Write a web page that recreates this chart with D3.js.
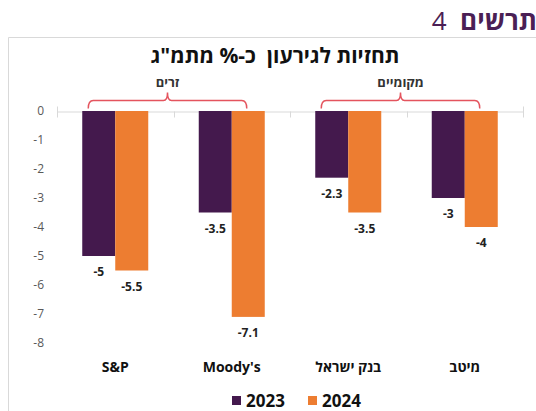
<!DOCTYPE html>
<html>
<head>
<meta charset="utf-8">
<script src="https://cdn.jsdelivr.net/npm/d3@7"></script>
<style>
  body { margin: 0; background: #fff; }
  svg { display: block; font-family: "Open Sans", "DejaVu Sans", sans-serif; }
</style>
</head>
<body>
<div id="chart"></div>
<script>
// data
let categories = ['S&P', "Moody's", 'בנק ישראל', 'מיטב'];
let seriesNames = ['2023', '2024'];
let values2023 = [-5, -3.5, -2.3, -3];
let values2024 = [-5.5, -7.1, -3.5, -4];
let yTicks = [0, -1, -2, -3, -4, -5, -6, -7, -8];
let groups = [
    { name: 'זרים', from: 0, to: 1 },
    { name: 'מקומיים', from: 2, to: 3 }
];

let colors = ['#44194d', '#ed7d31'];

function draw_chart() {
    let svgWidth = 536, svgHeight = 411;
    let svg = d3.select('#chart').append('svg')
        .attr('width', svgWidth)
        .attr('height', svgHeight);

    // frame
    svg.append('path')
        .attr('d', `M8.5,${svgHeight} L8.5,37.5 L${svgWidth},37.5`)
        .attr('fill', 'none')
        .attr('stroke', '#d9d9d9');

    // header (visual order: 4 then the word)
    let header = svg.append('text')
        .attr('x', 537)
        .attr('y', 30)
        .attr('text-anchor', 'end')
        .attr('fill', '#4b1f55')
        .attr('font-size', '26px');
    header.append('tspan').text('4\u00a0\u00a0');
    header.append('tspan').attr('font-weight', 'bold').text('תרשים');

    // title
    svg.append('text')
        .attr('x', 275)
        .attr('y', 63)
        .attr('text-anchor', 'middle')
        .attr('font-weight', 'bold')
        .attr('font-size', '21px')
        .attr('fill', '#111')
        .text('תחזיות לגירעון\u00a0\u00a0כ-% מתמ"ג');

    let x = d3.scaleBand()
        .domain(categories)
        .range([57, 523])
        .paddingInner(0)
        .paddingOuter(0);
    let x1 = d3.scaleBand()
        .domain(seriesNames)
        .range([0, 66]);
    let y = d3.scaleLinear()
        .domain([0, -8])
        .range([111, 343]);

    // y axis labels
    svg.append('g')
        .selectAll('text')
        .data(yTicks)
        .enter()
        .append('text')
        .attr('x', 44)
        .attr('y', d => y(d))
        .attr('dy', '0.35em')
        .attr('text-anchor', 'end')
        .attr('font-size', '12px')
        .attr('fill', '#595959')
        .text(d => d);

    // zero line with category ticks
    let axis_x = d3.axisTop(x).tickSize(5).tickFormat('');
    let gx = svg.append('g')
        .attr('transform', `translate(0, ${y(0) + 0.5})`)
        .call(axis_x);
    gx.selectAll('.tick').remove();
    gx.select('.domain').attr('stroke', '#d9d9d9');
    gx.selectAll('line.bound')
        .data(categories.map(c => x(c)).concat([x.range()[1]]))
        .enter()
        .append('line')
        .attr('class', 'bound')
        .attr('x1', d => Math.round(d) + 0.5)
        .attr('x2', d => Math.round(d) + 0.5)
        .attr('y1', 0)
        .attr('y2', 6)
        .attr('stroke', '#d9d9d9');

    // bars
    let rows = [];
    categories.forEach((c, i) => {
        rows.push({ cat: c, s: '2023', v: values2023[i], k: 0 });
        rows.push({ cat: c, s: '2024', v: values2024[i], k: 1 });
    });
    let off = (x.bandwidth() - 66) / 2;
    svg.append('g')
        .selectAll('rect')
        .data(rows)
        .enter()
        .append('rect')
        .attr('x', d => x(d.cat) + off + x1(d.s))
        .attr('y', y(0))
        .attr('width', x1.bandwidth())
        .attr('height', d => y(d.v) - y(0))
        .attr('fill', d => colors[d.k]);

    // data labels
    svg.append('g')
        .selectAll('text')
        .data(rows)
        .enter()
        .append('text')
        .attr('x', d => x(d.cat) + off + x1(d.s) + x1.bandwidth() / 2)
        .attr('y', d => y(d.v) + 20)
        .attr('text-anchor', 'middle')
        .attr('font-weight', 'bold')
        .attr('font-size', '12px')
        .attr('fill', '#222')
        .text(d => d.v);

    // category labels
    svg.append('g')
        .selectAll('text')
        .data(categories)
        .enter()
        .append('text')
        .attr('x', d => x(d) + x.bandwidth() / 2)
        .attr('y', 372)
        .attr('text-anchor', 'middle')
        .attr('font-weight', 'bold')
        .attr('font-size', '14px')
        .attr('fill', '#111')
        .text(d => d);

    // group brackets
    groups.forEach(g => {
        let x0 = x(categories[g.from]) + off + 6;
        let x2 = x(categories[g.to]) + off + 66 - 18;
        let xm = (x0 + x2) / 2;
        let yb = 100.5;
        svg.append('path')
            .attr('d', `M${x0},${yb + 8} Q${x0},${yb} ${x0 + 5},${yb} L${xm - 4},${yb} Q${xm},${yb} ${xm},${yb - 8} Q${xm},${yb} ${xm + 4},${yb} L${x2 - 5},${yb} Q${x2},${yb} ${x2},${yb + 8}`)
            .attr('fill', 'none')
            .attr('stroke', '#e4545e')
            .attr('stroke-width', 1.5);
        svg.append('text')
            .attr('x', xm)
            .attr('y', 87)
            .attr('text-anchor', 'middle')
            .attr('font-weight', 'bold')
            .attr('font-size', '13px')
            .attr('fill', '#333')
            .text(g.name);
    });

    // legend
    let legend = svg.append('g').attr('transform', 'translate(232, 401)');
    let lx = [0, 76];
    seriesNames.forEach((s, i) => {
        legend.append('rect')
            .attr('x', lx[i])
            .attr('y', -5)
            .attr('width', 9)
            .attr('height', 9)
            .attr('fill', colors[i]);
        legend.append('text')
            .attr('x', lx[i] + 14)
            .attr('y', 0)
            .attr('dy', '0.35em')
            .attr('font-weight', 'bold')
            .attr('font-size', '17px')
            .attr('fill', '#111')
            .text(s);
    });
}

draw_chart();
</script>
</body>
</html>
